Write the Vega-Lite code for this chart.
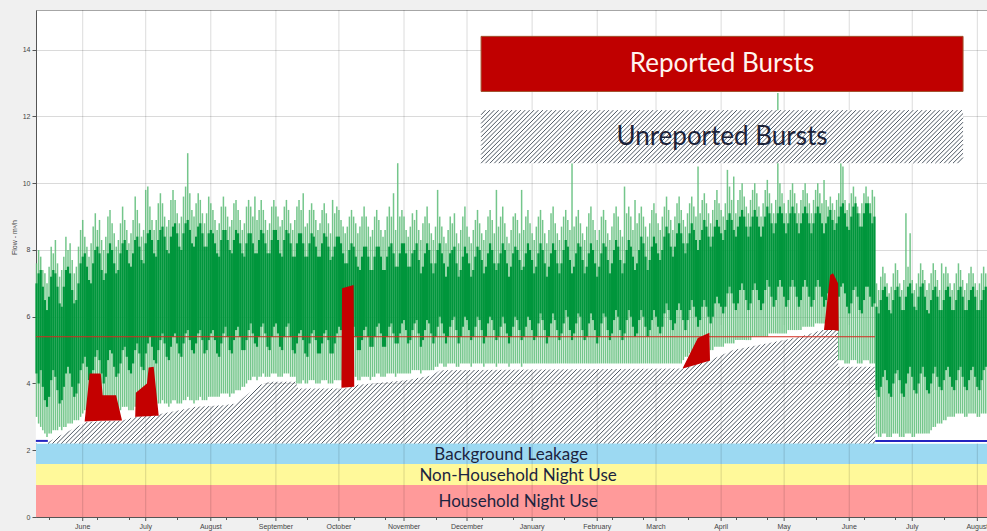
{
"$schema":"https://vega.github.io/schema/vega-lite/v6.json",
"width":951,"height":507,
"autosize":{"type":"none"},
"padding":{"left":36,"top":10,"right":0,"bottom":14},
"background":"#f0f0f0",
"config":{"view":{"stroke":"#a6a6a6","strokeWidth":1,"fill":"#ffffff"},
"axis":{"labelFont":"Liberation Sans","labelFontSize":7,"labelColor":"#444444","tickColor":"#555555","domainColor":"#555555","gridColor":"#dadada","titleFont":"Liberation Sans","titleFontSize":7,"titleFontWeight":"normal","titleColor":"#444444"}},
"datasets":{
"bands":[{"n":"Household Night Use","lo":0,"hi":0.96},{"n":"Non-Household Night Use","lo":0.96,"hi":1.59},{"n":"Background Leakage","lo":1.59,"hi":2.2}],
"months":[{"m":"June","d":0},{"m":"July","d":30},{"m":"August","d":61},{"m":"September","d":92},{"m":"October","d":122},{"m":"November","d":153},{"m":"December","d":183},{"m":"January","d":214},{"m":"February","d":245},{"m":"March","d":273},{"m":"April","d":304},{"m":"May","d":334},{"m":"June","d":365},{"m":"July","d":395},{"m":"August","d":426}],
"mask":[{"d":-22.3,"v":2.2},{"d":-16.6,"v":2.2},{"d":-16.5,"v":2.25},{"d":1.6,"v":2.85},{"d":19.2,"v":2.9},{"d":25.4,"v":3.0},{"d":36.4,"v":3.08},{"d":46,"v":3.2},{"d":54,"v":3.3},{"d":67,"v":3.35},{"d":73,"v":3.4},{"d":79,"v":3.7},{"d":84,"v":3.95},{"d":89,"v":4.05},{"d":101.5,"v":4.05},{"d":102.5,"v":3.85},{"d":125,"v":3.85},{"d":128.7,"v":3.95},{"d":138,"v":4.0},{"d":154,"v":4.1},{"d":166.5,"v":4.25},{"d":170,"v":4.4},{"d":285.9,"v":4.45},{"d":298.7,"v":4.7},{"d":309.7,"v":5.0},{"d":325.9,"v":5.2},{"d":341.6,"v":5.4},{"d":352.1,"v":5.6},{"d":359.7,"v":5.6},{"d":359.8,"v":4.5},{"d":377.3,"v":4.5},{"d":377.4,"v":2.2},{"d":432,"v":2.2}],
"hatch":[{"h":-16.5,"k":38.7},{"h":-14.4,"k":40.8},{"h":-12.3,"k":42.9},{"h":-10.2,"k":45.0},{"h":-8.1,"k":47.1},{"h":-6.0,"k":49.2},{"h":-3.9,"k":51.3},{"h":-1.8,"k":53.4},{"h":0.3,"k":55.5},{"h":2.4,"k":57.6},{"h":4.5,"k":59.7},{"h":6.6,"k":61.8},{"h":8.7,"k":63.9},{"h":10.8,"k":66.0},{"h":12.9,"k":68.1},{"h":15.0,"k":70.2},{"h":17.1,"k":72.3},{"h":19.2,"k":74.4},{"h":21.3,"k":76.5},{"h":23.4,"k":78.6},{"h":25.5,"k":80.7},{"h":27.6,"k":82.8},{"h":29.7,"k":84.9},{"h":31.8,"k":87.0},{"h":33.9,"k":89.1},{"h":36.0,"k":91.2},{"h":38.1,"k":93.3},{"h":40.2,"k":95.4},{"h":42.3,"k":97.5},{"h":44.4,"k":99.6},{"h":46.5,"k":101.7},{"h":48.6,"k":103.8},{"h":50.7,"k":105.9},{"h":52.8,"k":108.0},{"h":54.9,"k":110.1},{"h":57.0,"k":112.2},{"h":59.1,"k":114.3},{"h":61.2,"k":116.4},{"h":63.3,"k":118.5},{"h":65.4,"k":120.6},{"h":67.5,"k":122.7},{"h":69.6,"k":124.8},{"h":71.7,"k":126.9},{"h":73.8,"k":129.0},{"h":75.9,"k":131.1},{"h":78.0,"k":133.2},{"h":80.1,"k":135.3},{"h":82.2,"k":137.4},{"h":84.3,"k":139.5},{"h":86.4,"k":141.6},{"h":88.5,"k":143.7},{"h":90.6,"k":145.8},{"h":92.7,"k":147.9},{"h":94.8,"k":150.0},{"h":96.9,"k":152.1},{"h":99.0,"k":154.2},{"h":101.1,"k":156.3},{"h":103.2,"k":158.4},{"h":105.3,"k":160.5},{"h":107.4,"k":162.6},{"h":109.5,"k":164.7},{"h":111.6,"k":166.8},{"h":113.7,"k":168.9},{"h":115.8,"k":171.0},{"h":117.9,"k":173.1},{"h":120.0,"k":175.2},{"h":122.1,"k":177.3},{"h":124.2,"k":179.4},{"h":126.3,"k":181.5},{"h":128.4,"k":183.6},{"h":130.5,"k":185.7},{"h":132.6,"k":187.8},{"h":134.7,"k":189.9},{"h":136.8,"k":192.0},{"h":138.9,"k":194.1},{"h":141.0,"k":196.2},{"h":143.1,"k":198.3},{"h":145.2,"k":200.4},{"h":147.3,"k":202.5},{"h":149.4,"k":204.6},{"h":151.5,"k":206.7},{"h":153.6,"k":208.8},{"h":155.7,"k":210.9},{"h":157.8,"k":213.0},{"h":159.9,"k":215.1},{"h":162.0,"k":217.2},{"h":164.1,"k":219.3},{"h":166.2,"k":221.4},{"h":168.3,"k":223.5},{"h":170.4,"k":225.6},{"h":172.5,"k":227.7},{"h":174.6,"k":229.8},{"h":176.7,"k":231.9},{"h":178.8,"k":234.0},{"h":180.9,"k":236.1},{"h":183.0,"k":238.2},{"h":185.1,"k":240.3},{"h":187.2,"k":242.4},{"h":189.3,"k":244.5},{"h":191.4,"k":246.6},{"h":193.5,"k":248.7},{"h":195.6,"k":250.8},{"h":197.7,"k":252.9},{"h":199.8,"k":255.0},{"h":201.9,"k":257.1},{"h":204.0,"k":259.2},{"h":206.1,"k":261.3},{"h":208.2,"k":263.4},{"h":210.3,"k":265.5},{"h":212.4,"k":267.6},{"h":214.5,"k":269.7},{"h":216.6,"k":271.8},{"h":218.7,"k":273.9},{"h":220.8,"k":276.0},{"h":222.9,"k":278.1},{"h":225.0,"k":280.2},{"h":227.1,"k":282.3},{"h":229.2,"k":284.4},{"h":231.3,"k":286.5},{"h":233.4,"k":288.6},{"h":235.5,"k":290.7},{"h":237.6,"k":292.8},{"h":239.7,"k":294.9},{"h":241.8,"k":297.0},{"h":243.9,"k":299.1},{"h":246.0,"k":301.2},{"h":248.1,"k":303.3},{"h":250.2,"k":305.4},{"h":252.3,"k":307.5},{"h":254.4,"k":309.6},{"h":256.5,"k":311.7},{"h":258.6,"k":313.8},{"h":260.7,"k":315.9},{"h":262.8,"k":318.0},{"h":264.9,"k":320.1},{"h":267.0,"k":322.2},{"h":269.1,"k":324.3},{"h":271.2,"k":326.4},{"h":273.3,"k":328.5},{"h":275.4,"k":330.6},{"h":277.5,"k":332.7},{"h":279.6,"k":334.8},{"h":281.7,"k":336.9},{"h":283.8,"k":339.0},{"h":285.9,"k":341.1},{"h":288.0,"k":343.2},{"h":290.1,"k":345.3},{"h":292.2,"k":347.4},{"h":294.3,"k":349.5},{"h":296.4,"k":351.6},{"h":298.5,"k":353.7},{"h":300.6,"k":355.8},{"h":302.7,"k":357.9},{"h":304.8,"k":360.0},{"h":306.9,"k":362.1},{"h":309.0,"k":364.2},{"h":311.1,"k":366.3},{"h":313.2,"k":368.4},{"h":315.3,"k":370.5},{"h":317.4,"k":372.6},{"h":319.5,"k":374.7},{"h":321.6,"k":376.8},{"h":323.7,"k":378.9},{"h":325.8,"k":381.0},{"h":327.9,"k":383.1},{"h":330.0,"k":385.2},{"h":332.1,"k":387.3},{"h":334.2,"k":389.4},{"h":336.3,"k":391.5},{"h":338.4,"k":393.6},{"h":340.5,"k":395.7},{"h":342.6,"k":397.8},{"h":344.7,"k":399.9},{"h":346.8,"k":402.0},{"h":348.9,"k":404.1},{"h":351.0,"k":406.2},{"h":353.1,"k":408.3},{"h":355.2,"k":410.4},{"h":357.3,"k":412.5},{"h":359.4,"k":414.6},{"h":361.5,"k":416.7},{"h":363.6,"k":418.8},{"h":365.7,"k":420.9},{"h":367.8,"k":423.0},{"h":369.9,"k":425.1},{"h":372.0,"k":427.2},{"h":374.1,"k":429.3},{"h":376.2,"k":431.4}],
"boxfull":[{"h":189.7,"k":214.9},{"h":191.8,"k":217.0},{"h":193.9,"k":219.1},{"h":196.0,"k":221.2},{"h":198.1,"k":223.3},{"h":200.2,"k":225.4},{"h":202.3,"k":227.5},{"h":204.4,"k":229.6},{"h":206.5,"k":231.7},{"h":208.6,"k":233.8},{"h":210.7,"k":235.9},{"h":212.8,"k":238.0},{"h":214.9,"k":240.1},{"h":217.0,"k":242.2},{"h":219.1,"k":244.3},{"h":221.2,"k":246.4},{"h":223.3,"k":248.5},{"h":225.4,"k":250.6},{"h":227.5,"k":252.7},{"h":229.6,"k":254.8},{"h":231.7,"k":256.9},{"h":233.8,"k":259.0},{"h":235.9,"k":261.1},{"h":238.0,"k":263.2},{"h":240.1,"k":265.3},{"h":242.2,"k":267.4},{"h":244.3,"k":269.5},{"h":246.4,"k":271.6},{"h":248.5,"k":273.7},{"h":250.6,"k":275.8},{"h":252.7,"k":277.9},{"h":254.8,"k":280.0},{"h":256.9,"k":282.1},{"h":259.0,"k":284.2},{"h":261.1,"k":286.3},{"h":263.2,"k":288.4},{"h":265.3,"k":290.5},{"h":267.4,"k":292.6},{"h":269.5,"k":294.7},{"h":271.6,"k":296.8},{"h":273.7,"k":298.9},{"h":275.8,"k":301.0},{"h":277.9,"k":303.1},{"h":280.0,"k":305.2},{"h":282.1,"k":307.3},{"h":284.2,"k":309.4},{"h":286.3,"k":311.5},{"h":288.4,"k":313.6},{"h":290.5,"k":315.7},{"h":292.6,"k":317.8},{"h":294.7,"k":319.9},{"h":296.8,"k":322.0},{"h":298.9,"k":324.1},{"h":301.0,"k":326.2},{"h":303.1,"k":328.3},{"h":305.2,"k":330.4},{"h":307.3,"k":332.5},{"h":309.4,"k":334.6},{"h":311.5,"k":336.7},{"h":313.6,"k":338.8},{"h":315.7,"k":340.9},{"h":317.8,"k":343.0},{"h":319.9,"k":345.1},{"h":322.0,"k":347.2},{"h":324.1,"k":349.3},{"h":326.2,"k":351.4},{"h":328.3,"k":353.5},{"h":330.4,"k":355.6},{"h":332.5,"k":357.7},{"h":334.6,"k":359.8},{"h":336.7,"k":361.9},{"h":338.8,"k":364.0},{"h":340.9,"k":366.1},{"h":343.0,"k":368.2},{"h":345.1,"k":370.3},{"h":347.2,"k":372.4},{"h":349.3,"k":374.5},{"h":351.4,"k":376.6},{"h":353.5,"k":378.7},{"h":355.6,"k":380.8},{"h":357.7,"k":382.9},{"h":359.8,"k":385.0},{"h":361.9,"k":387.1},{"h":364.0,"k":389.2},{"h":366.1,"k":391.3},{"h":368.2,"k":393.4},{"h":370.3,"k":395.5},{"h":372.4,"k":397.6},{"h":374.5,"k":399.7},{"h":376.6,"k":401.8},{"h":378.7,"k":403.9},{"h":380.8,"k":406.0},{"h":382.9,"k":408.1},{"h":385.0,"k":410.2},{"h":387.1,"k":412.3},{"h":389.2,"k":414.4},{"h":391.3,"k":416.5},{"h":393.4,"k":418.6}],
"boxpart":[{"h":189.7,"k":212.8,"p":10.73,"q":12.19},{"h":189.7,"k":210.7,"p":10.86,"q":12.19},{"h":189.7,"k":208.6,"p":11.0,"q":12.19},{"h":189.7,"k":206.5,"p":11.13,"q":12.19},{"h":189.7,"k":204.4,"p":11.26,"q":12.19},{"h":189.7,"k":202.3,"p":11.39,"q":12.19},{"h":189.7,"k":200.2,"p":11.52,"q":12.19},{"h":189.7,"k":198.1,"p":11.66,"q":12.19},{"h":189.7,"k":196.0,"p":11.79,"q":12.19},{"h":189.7,"k":193.9,"p":11.92,"q":12.19},{"h":189.7,"k":191.8,"p":12.05,"q":12.19},{"h":395.5,"k":419.2,"p":10.6,"q":12.09},{"h":397.6,"k":419.2,"p":10.6,"q":11.96},{"h":399.7,"k":419.2,"p":10.6,"q":11.83},{"h":401.8,"k":419.2,"p":10.6,"q":11.69},{"h":403.9,"k":419.2,"p":10.6,"q":11.56},{"h":406.0,"k":419.2,"p":10.6,"q":11.43},{"h":408.1,"k":419.2,"p":10.6,"q":11.3},{"h":410.2,"k":419.2,"p":10.6,"q":11.17},{"h":412.3,"k":419.2,"p":10.6,"q":11.03},{"h":414.4,"k":419.2,"p":10.6,"q":10.9},{"h":416.5,"k":419.2,"p":10.6,"q":10.77}],
"bursts":[{"b":1,"x":0.95,"t":2.88,"u":2.86},{"b":1,"x":3.3,"t":4.3,"u":2.87},{"b":1,"x":8.6,"t":4.3,"u":2.88},{"b":1,"x":9.5,"t":3.65,"u":2.88},{"b":1,"x":15.9,"t":3.65,"u":2.89},{"b":1,"x":18.7,"t":2.9,"u":2.89},
{"b":2,"x":25.0,"t":3.0,"u":2.99},{"b":2,"x":25.3,"t":3.72,"u":3.0},{"b":2,"x":30.6,"t":4.0,"u":3.02},{"b":2,"x":31.4,"t":4.48,"u":3.02},{"b":2,"x":33.8,"t":4.5,"u":3.03},{"b":2,"x":36.2,"t":3.03,"u":3.03},
{"b":3,"x":123.2,"t":3.9,"u":3.87},{"b":3,"x":123.5,"t":6.85,"u":3.87},{"b":3,"x":129.0,"t":6.95,"u":3.9},{"b":3,"x":129.3,"t":3.92,"u":3.9},
{"b":4,"x":285.8,"t":4.47,"u":4.45},{"b":4,"x":292.9,"t":5.36,"u":4.58},{"b":4,"x":298.4,"t":5.52,"u":4.68},{"b":4,"x":298.7,"t":4.7,"u":4.68},
{"b":5,"x":353.0,"t":5.62,"u":5.6},{"b":5,"x":355.9,"t":7.25,"u":5.6},{"b":5,"x":357.3,"t":7.3,"u":5.6},{"b":5,"x":359.7,"t":7.0,"u":5.58},{"b":5,"x":360.0,"t":5.6,"u":5.58}],
"blue":[{"x1":-22.3,"x2":-16.6},{"x1":377.4,"x2":431}],
"bandlabels":[{"t":"Background Leakage","x":204,"y":1.86},{"t":"Non-Household Night Use","x":207.3,"y":1.23},{"t":"Household Night Use","x":207.3,"y":0.46}],
"green":[
{"d":-22,"a":3.0,"b":7.6,"c":4.3,"e":7.0},{"d":-21,"a":2.8,"b":8.0,"c":4.0,"e":7.3},{"d":-20,"a":2.7,"b":7.8,"c":4.4,"e":7.4},{"d":-19,"a":2.6,"b":7.4,"c":3.9,"e":6.9},{"d":-18,"a":2.5,"b":7.3,"c":3.5,"e":6.5},{"d":-17,"a":2.4,"b":7.0,"c":3.3,"e":6.2},{"d":-16,"a":2.5,"b":7.5,"c":3.6,"e":6.6},
{"d":-15,"a":2.5,"b":8.1,"c":4.1,"e":7.2},{"d":-14,"a":2.6,"b":7.9,"c":4.4,"e":7.4},{"d":-13,"a":2.6,"b":8.3,"c":4.2,"e":7.3},{"d":-12,"a":2.6,"b":7.6,"c":3.8,"e":6.9},{"d":-11,"a":2.7,"b":7.2,"c":3.4,"e":6.4},{"d":-10,"a":2.6,"b":7.4,"c":3.5,"e":6.3},{"d":-9,"a":2.7,"b":7.8,"c":3.9,"e":6.9},
{"d":-8,"a":2.7,"b":8.4,"c":4.3,"e":7.4},{"d":-7,"a":2.8,"b":8.0,"c":4.5,"e":7.5},{"d":-6,"a":2.8,"b":8.2,"c":4.3,"e":7.3},{"d":-5,"a":2.8,"b":7.7,"c":3.9,"e":6.8},{"d":-4,"a":2.9,"b":7.3,"c":3.6,"e":6.4},{"d":-3,"a":2.9,"b":7.5,"c":3.7,"e":6.5},{"d":-2,"a":2.9,"b":8.1,"c":4.0,"e":7.0},
{"d":-1,"a":3.0,"b":8.6,"c":4.4,"e":7.6},{"d":0,"a":3.1,"b":8.9,"c":4.6,"e":7.8},{"d":1,"a":3.2,"b":8.4,"c":4.8,"e":7.9},{"d":2,"a":3.1,"b":8.1,"c":4.5,"e":7.5},{"d":3,"a":3.0,"b":7.8,"c":4.1,"e":7.1},{"d":4,"a":3.0,"b":8.2,"c":4.0,"e":7.0},{"d":5,"a":3.1,"b":8.7,"c":4.4,"e":7.6},
{"d":6,"a":3.2,"b":9.1,"c":4.8,"e":8.0},{"d":7,"a":3.2,"b":8.6,"c":5.0,"e":8.1},{"d":8,"a":3.3,"b":8.9,"c":4.7,"e":7.9},{"d":9,"a":3.1,"b":8.3,"c":4.3,"e":7.4},{"d":10,"a":3.0,"b":8.0,"c":4.0,"e":7.1},{"d":11,"a":3.1,"b":8.4,"c":4.2,"e":7.3},{"d":12,"a":3.2,"b":9.0,"c":4.7,"e":7.9},
{"d":13,"a":3.3,"b":9.2,"c":5.0,"e":8.2},{"d":14,"a":3.2,"b":8.8,"c":4.9,"e":8.0},{"d":15,"a":3.2,"b":8.5,"c":4.5,"e":7.6},{"d":16,"a":3.1,"b":8.1,"c":4.2,"e":7.3},{"d":17,"a":3.1,"b":8.3,"c":4.3,"e":7.4},{"d":18,"a":3.2,"b":8.8,"c":4.6,"e":7.9},{"d":19,"a":3.3,"b":9.3,"c":5.0,"e":8.2},
{"d":20,"a":3.3,"b":8.9,"c":5.1,"e":8.3},{"d":21,"a":3.3,"b":8.6,"c":4.8,"e":8.0},{"d":22,"a":3.2,"b":8.2,"c":4.4,"e":7.6},{"d":23,"a":3.2,"b":8.5,"c":4.3,"e":7.5},{"d":24,"a":3.2,"b":8.9,"c":4.6,"e":7.9},{"d":25,"a":3.3,"b":9.6,"c":5.0,"e":8.3},{"d":26,"a":3.4,"b":9.2,"c":5.2,"e":8.4},
{"d":27,"a":3.3,"b":8.8,"c":4.9,"e":8.1},{"d":28,"a":3.2,"b":8.4,"c":4.5,"e":7.7},{"d":29,"a":3.2,"b":8.6,"c":4.4,"e":7.6},{"d":30,"a":3.3,"b":9.8,"c":4.9,"e":8.2},{"d":31,"a":3.4,"b":9.9,"c":5.2,"e":8.5},{"d":32,"a":3.4,"b":9.3,"c":5.4,"e":8.6},{"d":33,"a":3.3,"b":8.9,"c":5.1,"e":8.3},
{"d":34,"a":3.3,"b":8.6,"c":4.7,"e":7.9},{"d":35,"a":3.3,"b":8.9,"c":4.6,"e":7.8},{"d":36,"a":3.4,"b":9.4,"c":5.0,"e":8.3},{"d":37,"a":3.4,"b":9.7,"c":5.3,"e":8.6},{"d":38,"a":3.5,"b":9.4,"c":5.5,"e":8.7},{"d":39,"a":3.4,"b":9.0,"c":5.2,"e":8.4},{"d":40,"a":3.4,"b":8.7,"c":4.8,"e":8.0},
{"d":41,"a":3.3,"b":8.9,"c":4.7,"e":7.9},{"d":42,"a":3.4,"b":9.5,"c":5.1,"e":8.4},{"d":43,"a":3.5,"b":9.8,"c":5.4,"e":8.7},{"d":44,"a":3.5,"b":9.5,"c":5.5,"e":8.8},{"d":45,"a":3.4,"b":9.1,"c":5.2,"e":8.5},{"d":46,"a":3.4,"b":8.8,"c":4.9,"e":8.1},{"d":47,"a":3.4,"b":9.0,"c":4.8,"e":8.0},
{"d":48,"a":3.5,"b":9.6,"c":5.2,"e":8.5},{"d":49,"a":3.5,"b":9.9,"c":5.5,"e":8.8},{"d":50,"a":3.6,"b":10.9,"c":5.6,"e":8.9},{"d":51,"a":3.5,"b":9.7,"c":5.3,"e":8.6},{"d":52,"a":3.5,"b":9.2,"c":5.0,"e":8.2},{"d":53,"a":3.4,"b":9.0,"c":4.9,"e":8.1},{"d":54,"a":3.5,"b":9.4,"c":5.2,"e":8.4},
{"d":55,"a":3.5,"b":9.7,"c":5.5,"e":8.7},{"d":56,"a":3.6,"b":9.5,"c":5.6,"e":8.8},{"d":57,"a":3.5,"b":9.1,"c":5.3,"e":8.5},{"d":58,"a":3.5,"b":8.8,"c":4.9,"e":8.1},{"d":59,"a":3.5,"b":9.1,"c":5.0,"e":8.1},{"d":60,"a":3.6,"b":9.6,"c":5.3,"e":8.5},{"d":61,"a":3.6,"b":9.4,"c":5.5,"e":8.6},
{"d":62,"a":3.6,"b":9.2,"c":5.6,"e":8.5},{"d":63,"a":3.6,"b":8.9,"c":5.3,"e":8.2},{"d":64,"a":3.6,"b":8.6,"c":4.9,"e":7.9},{"d":65,"a":3.6,"b":8.8,"c":4.8,"e":7.8},{"d":66,"a":3.7,"b":9.3,"c":5.2,"e":8.3},{"d":67,"a":3.7,"b":9.6,"c":5.5,"e":8.6},{"d":68,"a":3.7,"b":9.3,"c":5.7,"e":8.6},
{"d":69,"a":3.7,"b":9.0,"c":5.4,"e":8.3},{"d":70,"a":3.6,"b":8.7,"c":5.0,"e":8.0},{"d":71,"a":3.7,"b":8.9,"c":4.9,"e":7.9},{"d":72,"a":3.7,"b":9.4,"c":5.3,"e":8.3},{"d":73,"a":3.8,"b":9.5,"c":5.6,"e":8.6},{"d":74,"a":3.8,"b":9.2,"c":5.7,"e":8.5},{"d":75,"a":3.8,"b":8.9,"c":5.4,"e":8.2},
{"d":76,"a":3.9,"b":8.6,"c":5.0,"e":7.9},{"d":77,"a":3.9,"b":8.8,"c":5.0,"e":7.8},{"d":78,"a":4.0,"b":9.3,"c":5.3,"e":8.2},{"d":79,"a":4.1,"b":9.5,"c":5.6,"e":8.5},{"d":80,"a":4.1,"b":9.3,"c":5.8,"e":8.5},{"d":81,"a":4.2,"b":9.0,"c":5.5,"e":8.2},{"d":82,"a":4.2,"b":9.6,"c":5.2,"e":7.9},
{"d":83,"a":4.1,"b":8.9,"c":5.1,"e":7.9},{"d":84,"a":4.2,"b":9.2,"c":5.4,"e":8.3},{"d":85,"a":4.2,"b":9.5,"c":5.7,"e":8.6},{"d":86,"a":4.3,"b":9.2,"c":5.8,"e":8.5},{"d":87,"a":4.2,"b":8.9,"c":5.5,"e":8.2},{"d":88,"a":4.2,"b":8.6,"c":5.1,"e":7.9},{"d":89,"a":4.2,"b":8.8,"c":5.0,"e":7.9},
{"d":90,"a":4.3,"b":9.3,"c":5.4,"e":8.3},{"d":91,"a":4.3,"b":9.5,"c":5.7,"e":8.6},{"d":92,"a":4.3,"b":9.3,"c":5.8,"e":8.6},{"d":93,"a":4.2,"b":9.0,"c":5.5,"e":8.3},{"d":94,"a":4.2,"b":8.7,"c":5.1,"e":7.9},{"d":95,"a":4.2,"b":8.9,"c":5.0,"e":7.8},{"d":96,"a":4.3,"b":9.3,"c":5.4,"e":8.3},
{"d":97,"a":4.3,"b":9.5,"c":5.7,"e":8.6},{"d":98,"a":4.3,"b":9.2,"c":5.8,"e":8.5},{"d":99,"a":4.2,"b":8.8,"c":5.4,"e":8.2},{"d":100,"a":4.2,"b":8.6,"c":5.0,"e":7.8},{"d":101,"a":4.2,"b":8.9,"c":4.9,"e":7.8},{"d":102,"a":4.0,"b":9.3,"c":5.2,"e":8.2},{"d":103,"a":4.0,"b":9.5,"c":5.5,"e":8.5},
{"d":104,"a":4.0,"b":9.2,"c":5.6,"e":8.5},{"d":105,"a":4.1,"b":9.7,"c":5.3,"e":8.2},{"d":106,"a":4.0,"b":8.7,"c":4.9,"e":7.8},{"d":107,"a":4.0,"b":8.8,"c":4.8,"e":7.8},{"d":108,"a":4.1,"b":9.2,"c":5.2,"e":8.2},{"d":109,"a":4.1,"b":9.4,"c":5.5,"e":8.5},{"d":110,"a":4.1,"b":9.2,"c":5.6,"e":8.4},
{"d":111,"a":4.0,"b":8.9,"c":5.3,"e":8.1},{"d":112,"a":4.0,"b":8.6,"c":4.9,"e":7.8},{"d":113,"a":4.0,"b":8.8,"c":4.9,"e":7.8},{"d":114,"a":4.1,"b":9.2,"c":5.2,"e":8.2},{"d":115,"a":4.1,"b":9.4,"c":5.5,"e":8.5},{"d":116,"a":4.1,"b":9.1,"c":5.6,"e":8.4},{"d":117,"a":4.0,"b":8.8,"c":5.3,"e":8.1},
{"d":118,"a":4.0,"b":8.5,"c":4.9,"e":7.7},{"d":119,"a":4.0,"b":9.5,"c":4.9,"e":7.8},{"d":120,"a":4.1,"b":9.1,"c":5.2,"e":8.1},{"d":121,"a":4.1,"b":9.3,"c":5.5,"e":8.4},{"d":122,"a":4.1,"b":9.2,"c":5.7,"e":8.4},{"d":123,"a":4.1,"b":8.9,"c":5.6,"e":8.2},{"d":124,"a":4.0,"b":8.7,"c":5.3,"e":7.9},
{"d":125,"a":4.0,"b":8.5,"c":5.0,"e":7.6},{"d":126,"a":4.0,"b":8.7,"c":5.0,"e":7.6},{"d":127,"a":4.1,"b":9.0,"c":5.3,"e":8.0},{"d":128,"a":4.1,"b":9.2,"c":5.6,"e":8.2},{"d":129,"a":4.2,"b":9.0,"c":5.7,"e":8.1},{"d":130,"a":4.2,"b":8.8,"c":5.4,"e":7.8},{"d":131,"a":4.1,"b":8.5,"c":5.0,"e":7.5},
{"d":132,"a":4.1,"b":8.7,"c":5.0,"e":7.4},{"d":133,"a":4.2,"b":9.0,"c":5.3,"e":7.8},{"d":134,"a":4.2,"b":9.3,"c":5.6,"e":8.1},{"d":135,"a":4.2,"b":9.0,"c":5.7,"e":8.1},{"d":136,"a":4.2,"b":8.7,"c":5.4,"e":7.8},{"d":137,"a":4.1,"b":8.4,"c":5.1,"e":7.4},{"d":138,"a":4.2,"b":8.6,"c":5.1,"e":7.4},
{"d":139,"a":4.2,"b":9.0,"c":5.4,"e":7.8},{"d":140,"a":4.3,"b":9.2,"c":5.7,"e":8.1},{"d":141,"a":4.3,"b":8.9,"c":5.8,"e":8.1},{"d":142,"a":4.2,"b":8.6,"c":5.5,"e":7.8},{"d":143,"a":4.2,"b":8.4,"c":5.1,"e":7.4},{"d":144,"a":4.2,"b":8.6,"c":5.1,"e":7.4},{"d":145,"a":4.3,"b":9.0,"c":5.4,"e":7.8},
{"d":146,"a":4.3,"b":9.3,"c":5.7,"e":8.1},{"d":147,"a":4.3,"b":9.0,"c":5.8,"e":8.2},{"d":148,"a":4.3,"b":9.7,"c":5.5,"e":7.9},{"d":149,"a":4.2,"b":8.6,"c":5.2,"e":7.5},{"d":150,"a":4.3,"b":10.6,"c":5.2,"e":7.5},{"d":151,"a":4.3,"b":9.0,"c":5.5,"e":7.9},{"d":152,"a":4.3,"b":9.2,"c":5.8,"e":8.2},
{"d":153,"a":4.3,"b":9.0,"c":5.9,"e":8.2},{"d":154,"a":4.3,"b":8.6,"c":5.6,"e":7.9},{"d":155,"a":4.3,"b":8.4,"c":5.2,"e":7.5},{"d":156,"a":4.3,"b":8.7,"c":5.3,"e":7.5},{"d":157,"a":4.4,"b":9.1,"c":5.6,"e":7.9},{"d":158,"a":4.4,"b":8.9,"c":5.8,"e":8.0},{"d":159,"a":4.4,"b":9.2,"c":5.9,"e":8.2},
{"d":160,"a":4.4,"b":8.6,"c":5.5,"e":7.7},{"d":161,"a":4.3,"b":8.3,"c":5.1,"e":7.3},{"d":162,"a":4.4,"b":8.8,"c":5.3,"e":7.5},{"d":163,"a":4.4,"b":9.0,"c":5.6,"e":7.9},{"d":164,"a":4.4,"b":9.3,"c":5.9,"e":8.2},{"d":165,"a":4.4,"b":8.8,"c":5.8,"e":8.0},{"d":166,"a":4.4,"b":8.5,"c":5.5,"e":7.6},
{"d":167,"a":4.4,"b":8.3,"c":5.2,"e":7.3},{"d":168,"a":4.5,"b":8.7,"c":5.4,"e":7.6},{"d":169,"a":4.5,"b":9.8,"c":5.7,"e":8.0},{"d":170,"a":4.6,"b":9.0,"c":6.0,"e":8.2},{"d":171,"a":4.6,"b":8.7,"c":5.8,"e":7.9},{"d":172,"a":4.5,"b":8.4,"c":5.5,"e":7.6},{"d":173,"a":4.5,"b":8.2,"c":5.2,"e":7.2},
{"d":174,"a":4.6,"b":8.6,"c":5.4,"e":7.5},{"d":175,"a":4.6,"b":9.0,"c":5.7,"e":7.9},{"d":176,"a":4.6,"b":8.8,"c":5.9,"e":8.0},{"d":177,"a":4.6,"b":9.1,"c":6.0,"e":8.1},{"d":178,"a":4.5,"b":8.5,"c":5.6,"e":7.6},{"d":179,"a":4.5,"b":8.2,"c":5.2,"e":7.2},{"d":180,"a":4.6,"b":8.6,"c":5.4,"e":7.4},
{"d":181,"a":4.6,"b":9.0,"c":5.7,"e":7.8},{"d":182,"a":4.6,"b":9.3,"c":6.0,"e":8.1},{"d":183,"a":4.6,"b":8.7,"c":5.9,"e":7.9},{"d":184,"a":4.6,"b":8.4,"c":5.6,"e":7.6},{"d":185,"a":4.5,"b":8.2,"c":5.3,"e":7.2},{"d":186,"a":4.6,"b":8.6,"c":5.4,"e":7.4},{"d":187,"a":4.6,"b":8.9,"c":5.7,"e":7.8},
{"d":188,"a":4.6,"b":9.2,"c":6.0,"e":8.1},{"d":189,"a":4.6,"b":8.8,"c":5.9,"e":8.0},{"d":190,"a":4.6,"b":8.5,"c":5.6,"e":7.7},{"d":191,"a":4.5,"b":8.3,"c":5.2,"e":7.3},{"d":192,"a":4.6,"b":8.6,"c":5.4,"e":7.5},{"d":193,"a":4.6,"b":9.0,"c":5.8,"e":7.9},{"d":194,"a":4.6,"b":9.2,"c":6.0,"e":8.2},
{"d":195,"a":4.6,"b":8.9,"c":5.9,"e":8.0},{"d":196,"a":4.6,"b":8.5,"c":5.6,"e":7.6},{"d":197,"a":4.5,"b":9.8,"c":5.3,"e":7.4},{"d":198,"a":4.6,"b":8.7,"c":5.4,"e":7.6},{"d":199,"a":4.6,"b":9.0,"c":5.7,"e":7.9},{"d":200,"a":4.6,"b":9.3,"c":6.0,"e":8.2},{"d":201,"a":4.6,"b":8.8,"c":5.8,"e":8.0},
{"d":202,"a":4.6,"b":8.4,"c":5.5,"e":7.6},{"d":203,"a":4.5,"b":8.2,"c":5.2,"e":7.2},{"d":204,"a":4.6,"b":8.6,"c":5.4,"e":7.5},{"d":205,"a":4.6,"b":9.0,"c":5.7,"e":7.9},{"d":206,"a":4.6,"b":9.1,"c":6.0,"e":8.1},{"d":207,"a":4.6,"b":8.9,"c":5.9,"e":8.0},{"d":208,"a":4.6,"b":8.5,"c":5.6,"e":7.7},
{"d":209,"a":4.5,"b":9.8,"c":5.3,"e":7.4},{"d":210,"a":4.6,"b":8.6,"c":5.4,"e":7.5},{"d":211,"a":4.6,"b":9.0,"c":5.7,"e":7.9},{"d":212,"a":4.6,"b":9.2,"c":6.0,"e":8.2},{"d":213,"a":4.6,"b":8.8,"c":5.9,"e":8.0},{"d":214,"a":4.6,"b":8.5,"c":5.6,"e":7.7},{"d":215,"a":4.6,"b":8.3,"c":5.3,"e":7.3},
{"d":216,"a":4.6,"b":8.7,"c":5.4,"e":7.5},{"d":217,"a":4.6,"b":9.0,"c":5.8,"e":7.9},{"d":218,"a":4.6,"b":9.2,"c":6.1,"e":8.2},{"d":219,"a":4.6,"b":8.9,"c":5.9,"e":8.0},{"d":220,"a":4.6,"b":8.5,"c":5.6,"e":7.6},{"d":221,"a":4.6,"b":8.2,"c":5.2,"e":7.2},{"d":222,"a":4.6,"b":8.6,"c":5.4,"e":7.5},
{"d":223,"a":4.6,"b":9.1,"c":5.8,"e":7.9},{"d":224,"a":4.6,"b":9.3,"c":6.1,"e":8.2},{"d":225,"a":4.6,"b":8.8,"c":5.9,"e":8.0},{"d":226,"a":4.6,"b":8.5,"c":5.6,"e":7.6},{"d":227,"a":4.6,"b":8.3,"c":5.3,"e":7.3},{"d":228,"a":4.6,"b":8.7,"c":5.5,"e":7.6},{"d":229,"a":4.6,"b":9.0,"c":5.8,"e":8.0},
{"d":230,"a":4.6,"b":9.2,"c":6.2,"e":8.3},{"d":231,"a":4.6,"b":8.9,"c":6.0,"e":8.1},{"d":232,"a":4.6,"b":8.6,"c":5.6,"e":7.7},{"d":233,"a":4.6,"b":10.6,"c":5.3,"e":7.3},{"d":234,"a":4.6,"b":8.7,"c":5.5,"e":7.5},{"d":235,"a":4.6,"b":9.0,"c":5.8,"e":7.9},{"d":236,"a":4.6,"b":9.2,"c":6.1,"e":8.2},
{"d":237,"a":4.6,"b":8.8,"c":6.0,"e":8.1},{"d":238,"a":4.6,"b":8.5,"c":5.6,"e":7.7},{"d":239,"a":4.6,"b":8.3,"c":5.3,"e":7.3},{"d":240,"a":4.6,"b":8.7,"c":5.4,"e":7.5},{"d":241,"a":4.6,"b":9.1,"c":5.8,"e":7.9},{"d":242,"a":4.6,"b":9.3,"c":6.1,"e":8.2},{"d":243,"a":4.6,"b":8.9,"c":5.9,"e":8.0},
{"d":244,"a":4.6,"b":8.6,"c":5.6,"e":7.6},{"d":245,"a":4.6,"b":8.3,"c":5.2,"e":7.2},{"d":246,"a":4.6,"b":8.6,"c":5.4,"e":7.5},{"d":247,"a":4.6,"b":9.0,"c":5.8,"e":7.9},{"d":248,"a":4.6,"b":9.2,"c":6.1,"e":8.2},{"d":249,"a":4.6,"b":8.9,"c":6.0,"e":8.1},{"d":250,"a":4.6,"b":8.5,"c":5.6,"e":7.7},
{"d":251,"a":4.6,"b":8.3,"c":5.3,"e":7.3},{"d":252,"a":4.6,"b":8.7,"c":5.5,"e":7.6},{"d":253,"a":4.6,"b":9.1,"c":5.9,"e":8.0},{"d":254,"a":4.6,"b":9.3,"c":6.2,"e":8.3},{"d":255,"a":4.6,"b":9.0,"c":6.0,"e":8.1},{"d":256,"a":4.6,"b":8.6,"c":5.6,"e":7.7},{"d":257,"a":4.6,"b":8.4,"c":5.3,"e":7.3},
{"d":258,"a":4.6,"b":9.9,"c":5.5,"e":7.6},{"d":259,"a":4.6,"b":9.1,"c":5.9,"e":8.0},{"d":260,"a":4.6,"b":9.3,"c":6.2,"e":8.3},{"d":261,"a":4.6,"b":9.0,"c":6.0,"e":8.1},{"d":262,"a":4.6,"b":8.6,"c":5.7,"e":7.8},{"d":263,"a":4.6,"b":9.5,"c":5.4,"e":7.4},{"d":264,"a":4.6,"b":8.8,"c":5.5,"e":7.6},
{"d":265,"a":4.6,"b":9.1,"c":5.9,"e":8.0},{"d":266,"a":4.6,"b":9.3,"c":6.2,"e":8.4},{"d":267,"a":4.6,"b":9.0,"c":6.0,"e":8.2},{"d":268,"a":4.6,"b":8.7,"c":5.7,"e":7.8},{"d":269,"a":4.6,"b":8.4,"c":5.4,"e":7.4},{"d":270,"a":4.6,"b":8.8,"c":5.6,"e":7.7},{"d":271,"a":4.6,"b":9.2,"c":5.9,"e":8.1},
{"d":272,"a":4.6,"b":9.4,"c":6.2,"e":8.4},{"d":273,"a":4.6,"b":9.1,"c":6.0,"e":8.2},{"d":274,"a":4.6,"b":8.8,"c":5.7,"e":7.9},{"d":275,"a":4.6,"b":8.6,"c":5.5,"e":7.7},{"d":276,"a":4.6,"b":9.0,"c":5.7,"e":8.0},{"d":277,"a":4.6,"b":9.3,"c":6.1,"e":8.4},{"d":278,"a":4.6,"b":9.6,"c":6.4,"e":8.7},
{"d":279,"a":4.6,"b":9.2,"c":6.2,"e":8.5},{"d":280,"a":4.6,"b":8.9,"c":5.9,"e":8.1},{"d":281,"a":4.6,"b":8.6,"c":5.6,"e":7.8},{"d":282,"a":4.6,"b":9.0,"c":5.8,"e":8.1},{"d":283,"a":4.6,"b":9.4,"c":6.2,"e":8.5},{"d":284,"a":4.6,"b":9.6,"c":6.4,"e":8.8},{"d":285,"a":4.6,"b":9.2,"c":6.2,"e":8.5},
{"d":286,"a":4.7,"b":8.9,"c":5.9,"e":8.2},{"d":287,"a":4.8,"b":8.7,"c":5.6,"e":7.9},{"d":288,"a":4.8,"b":9.1,"c":5.9,"e":8.2},{"d":289,"a":4.9,"b":9.4,"c":6.2,"e":8.5},{"d":290,"a":4.9,"b":9.6,"c":6.5,"e":8.8},{"d":291,"a":4.9,"b":9.3,"c":6.3,"e":8.6},{"d":292,"a":4.9,"b":9.0,"c":6.0,"e":8.3},
{"d":293,"a":4.9,"b":10.5,"c":5.7,"e":8.0},{"d":294,"a":5.0,"b":9.1,"c":5.9,"e":8.3},{"d":295,"a":5.0,"b":9.5,"c":6.3,"e":8.6},{"d":296,"a":5.0,"b":9.7,"c":6.5,"e":8.9},{"d":297,"a":5.0,"b":9.4,"c":6.3,"e":8.7},{"d":298,"a":5.0,"b":9.1,"c":6.0,"e":8.4},{"d":299,"a":5.0,"b":8.8,"c":5.8,"e":8.1},
{"d":300,"a":5.0,"b":9.2,"c":6.0,"e":8.4},{"d":301,"a":5.1,"b":9.5,"c":6.4,"e":8.7},{"d":302,"a":5.1,"b":9.8,"c":6.6,"e":8.9},{"d":303,"a":5.1,"b":9.4,"c":6.4,"e":8.7},{"d":304,"a":5.1,"b":9.2,"c":6.3,"e":8.5},{"d":305,"a":5.1,"b":9.0,"c":6.1,"e":8.3},{"d":306,"a":5.2,"b":9.4,"c":6.3,"e":8.6},
{"d":307,"a":5.2,"b":10.4,"c":6.7,"e":8.9},{"d":308,"a":5.2,"b":9.9,"c":6.9,"e":9.1},{"d":309,"a":5.2,"b":9.5,"c":6.7,"e":8.9},{"d":310,"a":5.2,"b":10.2,"c":6.4,"e":8.6},{"d":311,"a":5.3,"b":9.1,"c":6.2,"e":8.4},{"d":312,"a":5.3,"b":9.5,"c":6.4,"e":8.7},{"d":313,"a":5.3,"b":9.8,"c":6.8,"e":9.0},
{"d":314,"a":5.3,"b":10.0,"c":7.0,"e":9.2},{"d":315,"a":5.3,"b":9.6,"c":6.8,"e":9.0},{"d":316,"a":5.3,"b":9.3,"c":6.5,"e":8.7},{"d":317,"a":5.3,"b":9.1,"c":6.2,"e":8.4},{"d":318,"a":5.3,"b":9.5,"c":6.4,"e":8.7},{"d":319,"a":5.4,"b":9.8,"c":6.8,"e":9.0},{"d":320,"a":5.4,"b":10.0,"c":7.0,"e":9.2},
{"d":321,"a":5.4,"b":9.7,"c":6.8,"e":9.0},{"d":322,"a":5.4,"b":9.3,"c":6.5,"e":8.7},{"d":323,"a":5.4,"b":9.0,"c":6.2,"e":8.4},{"d":324,"a":5.4,"b":9.4,"c":6.4,"e":8.7},{"d":325,"a":5.4,"b":9.8,"c":6.8,"e":9.0},{"d":326,"a":5.4,"b":10.1,"c":7.1,"e":9.3},{"d":327,"a":5.5,"b":9.7,"c":6.9,"e":9.1},
{"d":328,"a":5.5,"b":9.4,"c":6.6,"e":8.8},{"d":329,"a":5.5,"b":9.1,"c":6.3,"e":8.5},{"d":330,"a":5.5,"b":9.5,"c":6.5,"e":8.8},{"d":331,"a":5.5,"b":12.7,"c":6.9,"e":9.1},{"d":332,"a":5.5,"b":10.0,"c":7.1,"e":9.3},{"d":333,"a":5.5,"b":9.7,"c":6.9,"e":9.1},{"d":334,"a":5.5,"b":9.4,"c":6.6,"e":8.8},
{"d":335,"a":5.5,"b":9.1,"c":6.3,"e":8.5},{"d":336,"a":5.6,"b":9.5,"c":6.5,"e":8.8},{"d":337,"a":5.6,"b":9.8,"c":6.9,"e":9.1},{"d":338,"a":5.6,"b":10.0,"c":7.1,"e":9.3},{"d":339,"a":5.6,"b":9.7,"c":6.9,"e":9.1},{"d":340,"a":5.6,"b":9.4,"c":6.6,"e":8.8},{"d":341,"a":5.6,"b":9.1,"c":6.3,"e":8.5},
{"d":342,"a":5.6,"b":9.5,"c":6.5,"e":8.8},{"d":343,"a":5.7,"b":9.8,"c":6.9,"e":9.1},{"d":344,"a":5.7,"b":10.0,"c":7.1,"e":9.3},{"d":345,"a":5.7,"b":9.7,"c":6.9,"e":9.1},{"d":346,"a":5.7,"b":9.4,"c":6.6,"e":8.8},{"d":347,"a":5.7,"b":9.1,"c":6.3,"e":8.5},{"d":348,"a":5.7,"b":9.5,"c":6.5,"e":8.8},
{"d":349,"a":5.8,"b":9.8,"c":6.9,"e":9.1},{"d":350,"a":5.8,"b":10.0,"c":7.1,"e":9.3},{"d":351,"a":5.8,"b":9.7,"c":6.9,"e":9.1},{"d":352,"a":5.8,"b":9.4,"c":6.6,"e":8.8},{"d":353,"a":5.8,"b":10.1,"c":6.3,"e":8.5},{"d":354,"a":5.8,"b":9.5,"c":6.5,"e":8.8},{"d":355,"a":5.8,"b":9.3,"c":6.7,"e":9.0},
{"d":356,"a":5.8,"b":9.6,"c":6.9,"e":9.2},{"d":357,"a":5.8,"b":9.4,"c":6.6,"e":8.9},{"d":358,"a":5.8,"b":9.2,"c":6.3,"e":8.6},{"d":359,"a":5.7,"b":9.5,"c":6.4,"e":8.8},{"d":360,"a":4.7,"b":9.7,"c":6.6,"e":9.0},{"d":361,"a":4.7,"b":10.6,"c":6.9,"e":9.3},{"d":362,"a":4.7,"b":10.5,"c":7.0,"e":9.4},
{"d":363,"a":4.6,"b":9.5,"c":6.7,"e":9.1},{"d":364,"a":4.6,"b":9.2,"c":6.3,"e":8.7},{"d":365,"a":4.6,"b":9.4,"c":6.1,"e":8.6},{"d":366,"a":4.7,"b":9.7,"c":6.4,"e":9.0},{"d":367,"a":4.7,"b":9.9,"c":6.8,"e":9.3},{"d":368,"a":4.7,"b":9.6,"c":6.9,"e":9.4},{"d":369,"a":4.6,"b":9.3,"c":6.6,"e":9.1},
{"d":370,"a":4.6,"b":9.1,"c":6.2,"e":8.7},{"d":371,"a":4.6,"b":9.4,"c":6.1,"e":8.7},{"d":372,"a":4.7,"b":9.7,"c":6.5,"e":9.1},{"d":373,"a":4.7,"b":9.9,"c":6.9,"e":9.4},{"d":374,"a":4.7,"b":9.6,"c":6.9,"e":9.4},{"d":375,"a":4.6,"b":9.4,"c":6.6,"e":9.1},{"d":376,"a":4.6,"b":9.8,"c":6.3,"e":8.8},
{"d":377,"a":4.6,"b":9.6,"c":6.4,"e":9.0},{"d":378,"a":2.5,"b":7.0,"c":3.8,"e":6.3},{"d":379,"a":2.4,"b":6.8,"c":3.6,"e":6.1},{"d":380,"a":2.4,"b":7.2,"c":3.9,"e":6.5},{"d":381,"a":2.5,"b":7.5,"c":4.2,"e":6.8},{"d":382,"a":2.5,"b":7.3,"c":4.4,"e":6.9},{"d":383,"a":2.4,"b":7.0,"c":4.1,"e":6.6},
{"d":384,"a":2.4,"b":6.7,"c":3.7,"e":6.2},{"d":385,"a":2.4,"b":6.9,"c":3.6,"e":6.1},{"d":386,"a":2.5,"b":7.3,"c":4.0,"e":6.5},{"d":387,"a":2.5,"b":7.6,"c":4.3,"e":6.8},{"d":388,"a":2.5,"b":7.4,"c":4.4,"e":6.9},{"d":389,"a":2.4,"b":7.0,"c":4.1,"e":6.6},{"d":390,"a":2.4,"b":6.8,"c":3.7,"e":6.2},
{"d":391,"a":2.4,"b":7.1,"c":3.6,"e":6.2},{"d":392,"a":2.5,"b":9.1,"c":4.0,"e":6.6},{"d":393,"a":2.5,"b":7.5,"c":4.3,"e":6.9},{"d":394,"a":2.5,"b":8.5,"c":4.5,"e":7.0},{"d":395,"a":2.4,"b":7.1,"c":4.2,"e":6.7},{"d":396,"a":2.4,"b":6.8,"c":3.8,"e":6.3},{"d":397,"a":2.5,"b":7.0,"c":3.7,"e":6.2},
{"d":398,"a":2.5,"b":7.3,"c":4.0,"e":6.6},{"d":399,"a":2.5,"b":7.6,"c":4.3,"e":6.9},{"d":400,"a":2.5,"b":7.4,"c":4.5,"e":7.0},{"d":401,"a":2.5,"b":7.1,"c":4.2,"e":6.6},{"d":402,"a":2.5,"b":6.8,"c":3.8,"e":6.2},{"d":403,"a":2.5,"b":7.0,"c":3.7,"e":6.1},{"d":404,"a":2.6,"b":7.3,"c":4.0,"e":6.5},
{"d":405,"a":2.7,"b":7.6,"c":4.3,"e":6.8},{"d":406,"a":2.7,"b":7.4,"c":4.5,"e":6.9},{"d":407,"a":2.8,"b":7.1,"c":4.2,"e":6.6},{"d":408,"a":2.8,"b":6.8,"c":3.9,"e":6.2},{"d":409,"a":2.8,"b":7.6,"c":3.8,"e":6.2},{"d":410,"a":2.9,"b":7.3,"c":4.1,"e":6.5},{"d":411,"a":2.9,"b":7.5,"c":4.4,"e":6.8},
{"d":412,"a":3.0,"b":7.3,"c":4.5,"e":6.9},{"d":413,"a":3.0,"b":7.0,"c":4.2,"e":6.6},{"d":414,"a":3.0,"b":6.8,"c":3.9,"e":6.2},{"d":415,"a":3.0,"b":7.0,"c":3.8,"e":6.2},{"d":416,"a":3.1,"b":7.3,"c":4.1,"e":6.5},{"d":417,"a":3.1,"b":7.6,"c":4.4,"e":6.8},{"d":418,"a":3.1,"b":7.4,"c":4.5,"e":6.9},
{"d":419,"a":3.1,"b":7.1,"c":4.2,"e":6.6},{"d":420,"a":3.0,"b":6.8,"c":3.9,"e":6.2},{"d":421,"a":3.0,"b":7.0,"c":3.8,"e":6.2},{"d":422,"a":3.1,"b":7.3,"c":4.1,"e":6.5},{"d":423,"a":3.1,"b":7.5,"c":4.4,"e":6.8},{"d":424,"a":3.1,"b":7.3,"c":4.5,"e":6.9},{"d":425,"a":3.1,"b":7.0,"c":4.2,"e":6.6},
{"d":426,"a":3.0,"b":6.8,"c":3.9,"e":6.2},{"d":427,"a":3.0,"b":7.0,"c":3.8,"e":6.2},{"d":428,"a":3.1,"b":7.3,"c":4.1,"e":6.5},{"d":429,"a":3.1,"b":7.5,"c":4.4,"e":6.8},{"d":430,"a":3.1,"b":7.3,"c":4.5,"e":6.9}
]},
"layer":[
{"data":{"name":"bands"},"mark":{"type":"rect"},
 "encoding":{"y":{"field":"lo","type":"quantitative"},"y2":{"field":"hi"},
 "color":{"field":"n","type":"nominal","scale":{"domain":["Household Night Use","Non-Household Night Use","Background Leakage"],"range":["#ff9a9a","#fff99a","#9cd9f2"]},"legend":null}}},
{"data":{"name":"months"},"mark":{"type":"rule","color":"#000000","opacity":0.14,"strokeWidth":1},
 "encoding":{"x":{"field":"d","type":"quantitative"},"y":{"datum":0},"y2":{"datum":15.19}}},
{"data":{"name":"hatch"},"mark":{"type":"rule","color":"#454f5b","strokeWidth":0.95},
 "encoding":{"x":{"field":"h","type":"quantitative"},"x2":{"field":"k"},"y":{"datum":2.2},"y2":{"datum":5.67}}},
{"data":{"name":"mask"},"mark":{"type":"area","color":"#ffffff","opacity":1},
 "encoding":{
  "x":{"field":"d","type":"quantitative","scale":{"domain":[-22.24,430.6],"nice":false,"zero":false},"title":null,
   "axis":{"values":[-16,-9,7,15,22,37,45,52,68,76,83,99,107,114,129,137,144,160,168,175,190,198,205,221,229,236,252,260,267,280,288,295,311,319,326,341,349,356,372,380,387,402,410,417],"labels":false,"grid":false,"tickSize":2.5}},
  "y":{"field":"v","type":"quantitative","scale":{"domain":[0,15.19],"nice":false},"title":"Flow - m³/h",
   "axis":{"values":[0,1,2,3,4,5,6,7,8,9,10,11,12,13,14,15],"labelExpr":"datum.value % 2 == 0 ? datum.label : ''","labelOverlap":false,"labelFlush":false,"labelPadding":2,"grid":true,
   "tickSize":{"condition":{"test":"datum.value % 2 == 0","value":4},"value":2.5},
   "gridOpacity":{"condition":{"test":"datum.value % 2 == 0 && datum.value > 0","value":1},"value":0},
   "titleX":-19,"titleY":227}},
  "y2":{"datum":5.75}}},
{"data":{"name":"green"},"mark":{"type":"rule","color":"#5cbc77","strokeWidth":1.5,"opacity":0.85},
 "encoding":{"x":{"field":"d","type":"quantitative"},"y":{"field":"a","type":"quantitative"},"y2":{"field":"b"}}},
{"data":{"name":"green"},"mark":{"type":"rule","color":"#00963c","strokeWidth":2.2},
 "encoding":{"x":{"field":"d","type":"quantitative"},"y":{"field":"c","type":"quantitative"},"y2":{"field":"e"}}},
{"data":{"values":[{}]},"mark":{"type":"rule","color":"#d42a1e","strokeWidth":1.2},
 "encoding":{"x":{"datum":-22.24},"x2":{"datum":377.3},"y":{"datum":5.4}}},
{"data":{"name":"blue"},"mark":{"type":"rule","color":"#2424c0","strokeWidth":2},
 "encoding":{"x":{"field":"x1","type":"quantitative"},"x2":{"field":"x2"},"y":{"datum":2.28}}},
{"data":{"name":"bursts"},"mark":{"type":"area","color":"#c40000","opacity":1},
 "encoding":{"x":{"field":"x","type":"quantitative"},"y":{"field":"t","type":"quantitative"},"y2":{"field":"u"},"detail":{"field":"b","type":"nominal"}}},
{"data":{"values":[{}]},"mark":{"type":"rect","color":"#c00000","stroke":"#a0522d","strokeWidth":1},
 "encoding":{"x":{"datum":189.7},"x2":{"datum":419.2},"y":{"datum":12.75},"y2":{"datum":14.4}}},
{"data":{"values":[{}]},"mark":{"type":"rect","color":"#ffffff"},
 "encoding":{"x":{"datum":189.7},"x2":{"datum":419.2},"y":{"datum":10.6},"y2":{"datum":12.19}}},
{"data":{"name":"boxfull"},"mark":{"type":"rule","color":"#454f5b","strokeWidth":0.95},
 "encoding":{"x":{"field":"h","type":"quantitative"},"x2":{"field":"k"},"y":{"datum":10.6},"y2":{"datum":12.19}}},
{"data":{"name":"boxpart"},"mark":{"type":"rule","color":"#454f5b","strokeWidth":0.95},
 "encoding":{"x":{"field":"h","type":"quantitative"},"x2":{"field":"k"},"y":{"field":"p","type":"quantitative"},"y2":{"field":"q"}}},
{"data":{"name":"months"},"mark":{"type":"rule","color":"#555555","strokeWidth":1},
 "encoding":{"x":{"field":"d","type":"quantitative"},"y":{"datum":0},"y2":{"datum":-0.12}}},
{"data":{"name":"months"},"mark":{"type":"text","font":"Liberation Sans","fontSize":7,"color":"#444444","align":"center","baseline":"middle"},
 "encoding":{"x":{"field":"d","type":"quantitative"},"y":{"datum":-0.29},"text":{"field":"m"}}},
{"data":{"name":"bandlabels"},"mark":{"type":"text","font":"Lato","fontSize":17,"color":"#1c2440","align":"center","baseline":"middle"},
 "encoding":{"x":{"field":"x","type":"quantitative"},"y":{"field":"y","type":"quantitative"},"text":{"field":"t"}}},
{"data":{"values":[{"t":"Reported Bursts","x":304.4,"y":13.57}]},"mark":{"type":"text","font":"Lato","fontSize":26,"color":"#fff4ee","align":"center","baseline":"middle"},
 "encoding":{"x":{"field":"x","type":"quantitative"},"y":{"field":"y","type":"quantitative"},"text":{"field":"t"}}},
{"data":{"values":[{"t":"Unreported Bursts","x":304.4,"y":11.38}]},"mark":{"type":"text","font":"Lato","fontSize":26,"color":"#1b2238","align":"center","baseline":"middle"},
 "encoding":{"x":{"field":"x","type":"quantitative"},"y":{"field":"y","type":"quantitative"},"text":{"field":"t"}}}
]
}
